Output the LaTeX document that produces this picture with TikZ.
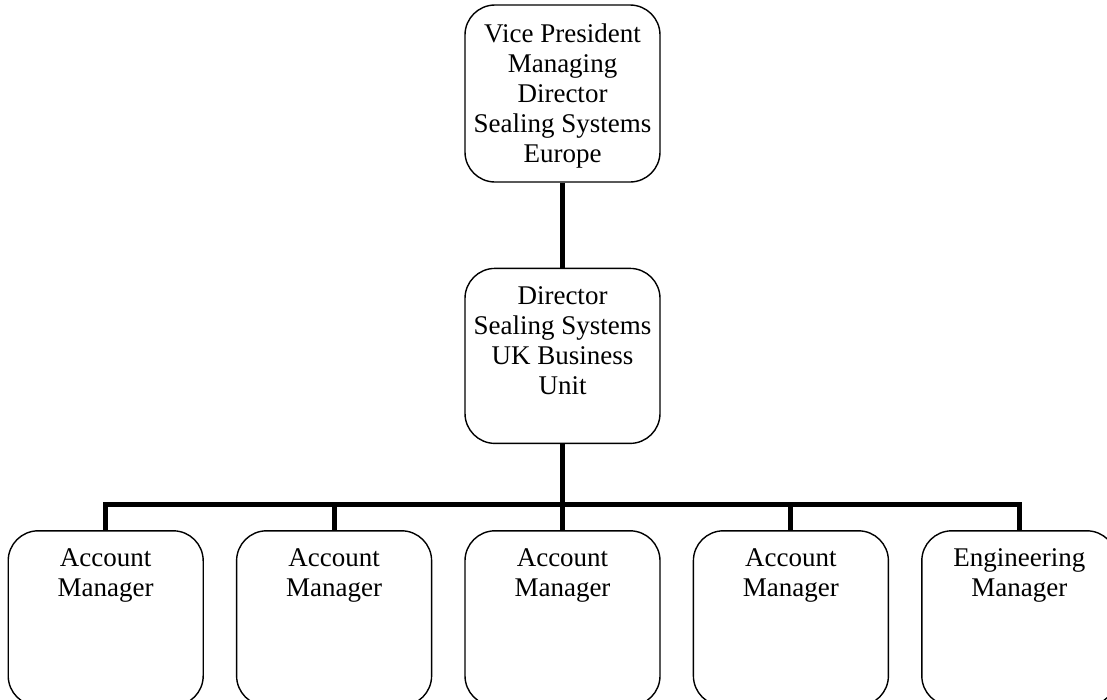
\documentclass[tikz,border=0pt]{standalone}
\usepackage{fontspec}
\setmainfont{Liberation Serif}
\usetikzlibrary{positioning}
\newcommand{\posttext}[1]{\parbox[c][175pt][t]{190pt}{\centering\rule{0pt}{36pt}#1\par}}

\begin{document}
\begin{tikzpicture} [x=1pt, y=1pt,
        post/.style={rectangle, rounded corners=30pt, draw, fill=white,
                line width=1.4pt, minimum width=195pt, minimum height=175pt,
                inner sep=0pt, font=\fontsize{27pt}{30pt}\selectfont},
        link/.style={line width=5pt}]

    \useasboundingbox (0,0) rectangle (1107,-699);

    \node [
        post,
        minimum height = 177pt
    ] (vp) at (562.5, -93.5) {\posttext{Vice President\\Managing\\Director\\Sealing Systems\\Europe}};

    \node [
        post,
        below = 85pt of vp
    ] (dir) {\posttext{Director\\Sealing Systems\\UK Business\\Unit}};

    \node [
        post,
        below = 86pt of dir
    ] (am3) {\posttext{Account\\Manager}};

    \node [
        post,
        left = 32pt of am3
    ] (am2) {\posttext{Account\\Manager}};

    \node [
        post,
        left = 32pt of am2
    ] (am1) {\posttext{Account\\Manager}};

    \node [
        post,
        right = 32pt of am3
    ] (am4) {\posttext{Account\\Manager}};

    \node [
        post,
        right = 32pt of am4
    ] (em) {\posttext{Engineering\\Manager}};

    % bus bar above the bottom row
    \coordinate [above = 26pt of am3] (bus);

    \draw [link] (vp.south) -- (dir.north);
    \draw [link] (dir.south) -- (am3.north);
    \draw [link] (am1.north) |- (bus) -| (em.north);
    \draw [link] (am2.north) -- (am2.north |- bus);
    \draw [link] (am4.north) -- (am4.north |- bus);

\end{tikzpicture}
\end{document}
